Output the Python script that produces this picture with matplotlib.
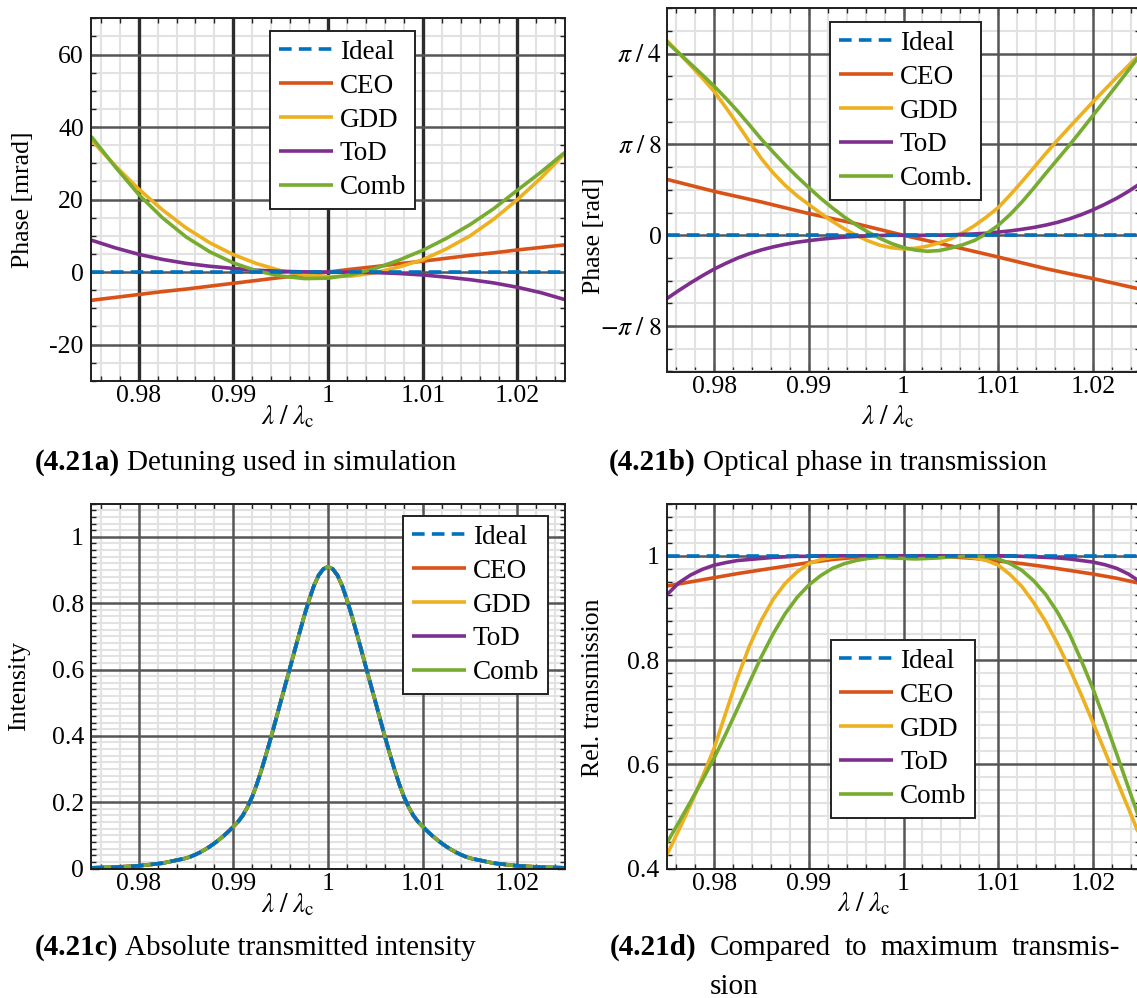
import matplotlib
matplotlib.use("Agg")
import numpy as np
import matplotlib.pyplot as plt
from matplotlib.ticker import FixedLocator, MultipleLocator

plt.rcParams['font.family'] = ['Liberation Serif', 'DejaVu Serif']
plt.rcParams['mathtext.fontset'] = 'stix'

W, H = 1137, 998

# ---------------- data ----------------
# coarse wavelength grid (lambda / lambda_c)
wavelength = [0.975, 0.9775, 0.98, 0.9825, 0.985, 0.9875, 0.99, 0.9925, 0.995, 0.9975,
              1.0, 1.0025, 1.005, 1.0075, 1.01, 1.0125, 1.015, 1.0175, 1.02, 1.0225, 1.025]
# finer grid for the curved transmission traces
wavelength_fine = [0.975, 0.97625, 0.9775, 0.97875, 0.98, 0.98125, 0.9825, 0.98375,
                   0.985, 0.98625, 0.9875, 0.98875, 0.99, 0.99125, 0.9925, 0.99375,
                   0.995, 0.99625, 0.9975, 0.99875, 1.0, 1.00125, 1.0025, 1.00375,
                   1.005, 1.00625, 1.0075, 1.00875, 1.01, 1.01125, 1.0125, 1.01375,
                   1.015, 1.01625, 1.0175, 1.01875, 1.02, 1.02125, 1.0225, 1.02375, 1.025]

series_names = ['Ideal', 'CEO', 'GDD', 'ToD', 'Comb']
series_names_b = ['Ideal', 'CEO', 'GDD', 'ToD', 'Comb.']
colors = ['#0072BD', '#D95319', '#EDB120', '#7E2F8E', '#77AC30']

# (a) detuning [mrad]
ideal_a = [0.0] * len(wavelength)
ceo_a = [-7.8, -7.0, -6.2, -5.4, -4.7, -3.9, -3.1, -2.3, -1.5, -0.8, 0.0,
         0.8, 1.5, 2.3, 3.0, 3.8, 4.6, 5.3, 6.1, 6.8, 7.5]
gdd_a = [36.4, 29.4, 22.9, 17.2, 12.2, 8.1, 4.8, 2.3, 0.4, -0.8, -1.3,
         -1.1, -0.2, 1.4, 3.4, 6.4, 10.0, 14.6, 20.0, 26.0, 32.7]
tod_a = [8.8, 6.7, 4.9, 3.5, 2.4, 1.6, 1.0, 0.5, 0.2, 0.05, 0.0,
         -0.05, -0.15, -0.4, -0.8, -1.4, -2.1, -3.0, -4.2, -5.7, -7.6]
comb_a = [37.4, 29.1, 21.4, 15.0, 9.7, 5.6, 2.5, 0.3, -1.1, -1.8, -1.7,
          -0.7, 1.0, 3.3, 6.0, 9.3, 13.1, 17.5, 22.6, 27.6, 33.0]

# (b) optical phase in transmission [rad]
ideal_b = [0.0] * len(wavelength)
ceo_b = [0.242, 0.216, 0.190, 0.167, 0.144, 0.119, 0.094, 0.072, 0.050, 0.025, 0.0,
         -0.023, -0.046, -0.070, -0.094, -0.119, -0.144, -0.166, -0.187, -0.210, -0.233]
gdd_b = [0.843, 0.789, 0.735, 0.680, 0.622, 0.552, 0.479, 0.404, 0.331, 0.269,
         0.216, 0.171, 0.133, 0.095, 0.060, 0.028, 0.000, -0.024, -0.043, -0.054,
         -0.059, -0.056, -0.047, -0.033, -0.015, 0.011, 0.042, 0.079, 0.120, 0.174,
         0.232, 0.292, 0.353, 0.411, 0.467, 0.522, 0.577, 0.630, 0.683, 0.734, 0.785]
tod_b = [-0.274, -0.239, -0.206, -0.175, -0.146, -0.121, -0.098, -0.079, -0.063, -0.050,
         -0.039, -0.030, -0.023, -0.017, -0.012, -0.008, -0.005, -0.003, -0.001, 0.0,
         0.0, 0.0, 0.0, 0.001, 0.002, 0.004, 0.006, 0.009, 0.014, 0.019,
         0.026, 0.034, 0.044, 0.056, 0.071, 0.089, 0.110, 0.134, 0.160, 0.190, 0.224]
comb_b = [0.836, 0.789, 0.742, 0.694, 0.645, 0.592, 0.536, 0.476, 0.415, 0.359,
          0.305, 0.254, 0.206, 0.160, 0.118, 0.079, 0.045, 0.014, -0.013, -0.036,
          -0.053, -0.064, -0.069, -0.066, -0.055, -0.041, -0.022, 0.007, 0.043, 0.090,
          0.144, 0.204, 0.267, 0.328, 0.389, 0.453, 0.518, 0.583, 0.648, 0.714, 0.781]

# (c) absolute transmitted intensity
wavelength_c = [0.975, 0.9775, 0.98, 0.9825,
                0.985, 0.9855, 0.986, 0.9865, 0.987, 0.9875, 0.988, 0.9885, 0.989, 0.9895,
                0.99, 0.9905, 0.991, 0.9915, 0.992, 0.9925, 0.993, 0.9935, 0.994, 0.9945,
                0.995, 0.9955, 0.996, 0.9965, 0.997, 0.9975, 0.998, 0.9985, 0.999, 0.9995,
                1.0, 1.0005, 1.001, 1.0015, 1.002, 1.0025, 1.003, 1.0035, 1.004, 1.0045,
                1.005, 1.0055, 1.006, 1.0065, 1.007, 1.0075, 1.008, 1.0085, 1.009, 1.0095,
                1.01, 1.0105, 1.011, 1.0115, 1.012, 1.0125, 1.013, 1.0135, 1.014, 1.0145,
                1.015, 1.0175, 1.02, 1.0225, 1.025]
intensity = [0.002, 0.004, 0.008, 0.016,
             0.031, 0.036, 0.042, 0.049, 0.057, 0.066, 0.076, 0.087, 0.099, 0.112,
             0.126, 0.141, 0.160, 0.186, 0.217, 0.256, 0.300, 0.348, 0.398, 0.450,
             0.503, 0.555, 0.607, 0.660, 0.712, 0.763, 0.810, 0.852, 0.884, 0.903,
             0.910, 0.903, 0.884, 0.852, 0.810, 0.763, 0.712, 0.660, 0.607, 0.555,
             0.503, 0.450, 0.398, 0.348, 0.300, 0.256, 0.217, 0.186, 0.160, 0.141,
             0.126, 0.112, 0.099, 0.087, 0.076, 0.066, 0.057, 0.049, 0.042, 0.036,
             0.031, 0.016, 0.008, 0.004, 0.002]

# (d) relative transmission
ideal_d = [1.0] * len(wavelength)
ceo_d = [0.942, 0.950, 0.958, 0.966, 0.973, 0.980, 0.987, 0.993, 0.997, 0.999, 1.0,
         0.999, 0.998, 0.995, 0.990, 0.985, 0.979, 0.972, 0.965, 0.957, 0.947]
gdd_d = [0.426, 0.473, 0.522, 0.575, 0.631, 0.700, 0.768, 0.828, 0.877, 0.917,
         0.947, 0.969, 0.985, 0.993, 0.997, 0.999, 0.999, 1.0, 1.0, 1.0,
         1.0, 1.0, 1.0, 1.0, 1.0, 0.999, 0.996, 0.991, 0.982, 0.964,
         0.941, 0.910, 0.874, 0.832, 0.785, 0.734, 0.680, 0.625, 0.570, 0.515, 0.460]
tod_d = [0.925, 0.948, 0.963, 0.974, 0.982, 0.987, 0.991, 0.993, 0.995, 0.997,
         0.998, 0.999, 0.999, 1.0, 1.0, 1.0, 1.0, 1.0, 1.0, 1.0,
         1.0, 1.0, 1.0, 1.0, 1.0, 1.0, 1.0, 1.0, 1.0, 1.0,
         0.999, 0.998, 0.997, 0.996, 0.994, 0.991, 0.988, 0.983, 0.976, 0.965, 0.950]
comb_d = [0.449, 0.488, 0.528, 0.569, 0.612, 0.659, 0.708, 0.758, 0.807, 0.851,
          0.889, 0.920, 0.944, 0.962, 0.976, 0.985, 0.991, 0.995, 0.997, 0.996,
          0.995, 0.994, 0.995, 0.996, 0.998, 0.999, 1.0, 0.998, 0.994, 0.985,
          0.972, 0.952, 0.926, 0.892, 0.851, 0.800, 0.745, 0.684, 0.620, 0.555, 0.490]

x_ticks = [0.98, 0.99, 1.0, 1.01, 1.02]
x_ticklabels = ['0.98', '0.99', '1', '1.01', '1.02']

# ---------------- styling helpers ----------------
FS = 18.5
LEG_FS = 19.5
LW = 2.6
MINOR_GRID = '#e2e2e2'
MAJOR_GRID = '#565656'

fig = plt.figure(figsize=(W / 100, H / 100), dpi=100)


def px_axes(left, right, top, bottom):
    return fig.add_axes([left / W, 1 - bottom / H, (right - left) / W, (bottom - top) / H])


def style_axes(ax, ylim, yticks, yticklabels, yminor, vcolor=MAJOR_GRID, vlw=1.8,
               ypad=5.4):
    ax.set_xlim(0.975, 1.025)
    ax.set_ylim(*ylim)
    ax.xaxis.set_major_locator(FixedLocator(x_ticks))
    ax.xaxis.set_minor_locator(MultipleLocator(0.002))
    ax.yaxis.set_major_locator(FixedLocator(yticks))
    ax.yaxis.set_minor_locator(MultipleLocator(yminor))
    ax.set_xticklabels(x_ticklabels)
    ax.set_yticklabels(yticklabels)
    ax.set_axisbelow(True)
    ax.grid(which='minor', color=MINOR_GRID, lw=1.5, zorder=0.3)
    ax.grid(which='major', visible=False)
    for xv in ax.xaxis.get_majorticklocs():
        ax.axvline(xv, color=vcolor, lw=vlw, zorder=0.8)
    for yv in ax.yaxis.get_majorticklocs():
        ax.axhline(yv, color=MAJOR_GRID, lw=1.8, zorder=0.8)
    ax.tick_params(which='both', direction='in', top=True, right=True,
                   labelsize=FS, color='#222222', width=1.0)
    ax.tick_params(which='major', length=6)
    ax.tick_params(which='minor', length=3.5)
    ax.tick_params(axis='x', pad=3.3)
    ax.tick_params(axis='y', pad=ypad)
    for s in ax.spines.values():
        s.set_linewidth(1.4)
        s.set_color('#1e1e1e')
        s.set_zorder(4)


def draw_series(ax, traces, names, legend_xy):
    """traces: list of (x, y) pairs in the order Ideal, CEO, GDD, ToD, Comb."""
    handles = []
    for (x, y), c, name in zip(traces[1:], colors[1:], names[1:]):
        h, = ax.plot(x, y, color=c, lw=LW, solid_capstyle='butt',
                     solid_joinstyle='round', zorder=2, label=name)
        handles.append(h)
    x0, y0 = traces[0]
    hi, = ax.plot(x0, y0, color=colors[0], lw=LW, ls=(0, (3.5, 2.0)),
                  dash_capstyle='butt', zorder=3, label=names[0])
    handles = [hi] + handles
    leg = ax.legend(handles=handles, loc='upper left',
                    bbox_to_anchor=(legend_xy[0] / W, 1 - legend_xy[1] / H),
                    bbox_transform=fig.transFigure, borderaxespad=0,
                    fontsize=LEG_FS, frameon=True, fancybox=False, framealpha=1,
                    edgecolor='#222222', borderpad=0.32, handlelength=2.0,
                    handletextpad=0.25, labelspacing=0.33)
    leg.get_frame().set_linewidth(1.4)
    leg.set_zorder(6)


xlabel = r'$\lambda\;/\;\lambda_{\mathrm{c}}$'

# (a)
ax_a = px_axes(91.3, 564.8, 18.3, 380.8)
style_axes(ax_a, (-30, 70), [-20, 0, 20, 40, 60], ['-20', '0', '20', '40', '60'], 5,
           vcolor='#2c2c2c', vlw=2.4)
draw_series(ax_a, [(wavelength, ideal_a), (wavelength, ceo_a), (wavelength, gdd_a),
                   (wavelength, tod_a), (wavelength, comb_a)], series_names, (270, 31))

# (b)
ax_b = px_axes(666.8, 1140.3, 8.3, 371.5)
style_axes(ax_b, (-3 * np.pi / 16, 5 * np.pi / 16),
           [-np.pi / 8, 0, np.pi / 8, np.pi / 4],
           [r'$-\pi\;/\;8$', '0', r'$\pi\;/\;8$', r'$\pi\;/\;4$'], np.pi / 32, ypad=3.5)
draw_series(ax_b, [(wavelength, ideal_b), (wavelength, ceo_b), (wavelength_fine, gdd_b),
                   (wavelength_fine, tod_b), (wavelength_fine, comb_b)],
            series_names_b, (830, 22))

# (c)
ax_c = px_axes(91.3, 564.8, 503.7, 868.5)
style_axes(ax_c, (0, 1.1), [0, 0.2, 0.4, 0.6, 0.8, 1.0],
           ['0', '0.2', '0.4', '0.6', '0.8', '1'], 0.02)
draw_series(ax_c, [(wavelength_c, intensity)] * 5, series_names, (403, 516))

# (d)
ax_d = px_axes(666.8, 1140.3, 503.7, 868.5)
style_axes(ax_d, (0.4, 1.1), [0.4, 0.6, 0.8, 1.0], ['0.4', '0.6', '0.8', '1'], 0.025)
draw_series(ax_d, [(wavelength, ideal_d), (wavelength, ceo_d), (wavelength_fine, gdd_d),
                   (wavelength_fine, tod_d), (wavelength_fine, comb_d)],
            series_names, (830.5, 640))


# axis labels
def ftext(x, y, s, **kw):
    return fig.text(x / W, 1 - y / H, s, **kw)


XFS = 19.5
ftext(288.2, 404, xlabel, fontsize=XFS, ha='center', va='top')
ftext(887.4, 404, xlabel, fontsize=XFS, ha='center', va='top')
ftext(287.6, 892, xlabel, fontsize=XFS, ha='center', va='top')
ftext(864.0, 891, xlabel, fontsize=XFS, ha='center', va='top')

ftext(22.7, 199.5, 'Phase [mrad]', fontsize=FS, rotation=90, ha='center', va='center')
ftext(594.0, 235.5, 'Phase [rad]', fontsize=FS, rotation=90, ha='center', va='center')
ftext(19.5, 686.2, 'Intensity', fontsize=FS, rotation=90, ha='center', va='center')
ftext(593.4, 688.0, 'Rel. transmission', fontsize=FS, rotation=90, ha='center', va='center')

# captions
CFS = 21
renderer = fig.canvas.get_renderer()


def caption(x, y, tag, rest):
    t = ftext(x, y, tag, fontsize=CFS, fontweight='bold', va='baseline')
    bb = t.get_window_extent(renderer=renderer)
    ftext(bb.x1 + 0.25 * CFS * 100 / 72, y, rest, fontsize=CFS, va='baseline')


caption(34.5, 470, '(4.21a)', 'Detuning used in simulation')
caption(609.2, 470, '(4.21b)', 'Optical phase in transmission')
caption(34.5, 955, '(4.21c)', 'Absolute transmitted intensity')

# justified two-line caption for (d)
words = ['(4.21d)', 'Compared', 'to', 'maximum', 'transmis-']
x_start, x_end = 609.5, 1120.5
arts = []
for i, w in enumerate(words):
    arts.append(ftext(0, 955, w, fontsize=CFS, va='baseline',
                      fontweight='bold' if i == 0 else 'normal'))
widths = [a.get_window_extent(renderer=renderer).width for a in arts]
gap = (x_end - x_start - sum(widths)) / (len(words) - 1)
xpos = x_start
word_x = []
for a, wdt in zip(arts, widths):
    a.set_x(xpos / W)
    word_x.append(xpos)
    xpos += wdt + gap
ftext(word_x[1], 994, 'sion', fontsize=CFS, va='baseline')

fig.savefig('out.png', dpi=100)
